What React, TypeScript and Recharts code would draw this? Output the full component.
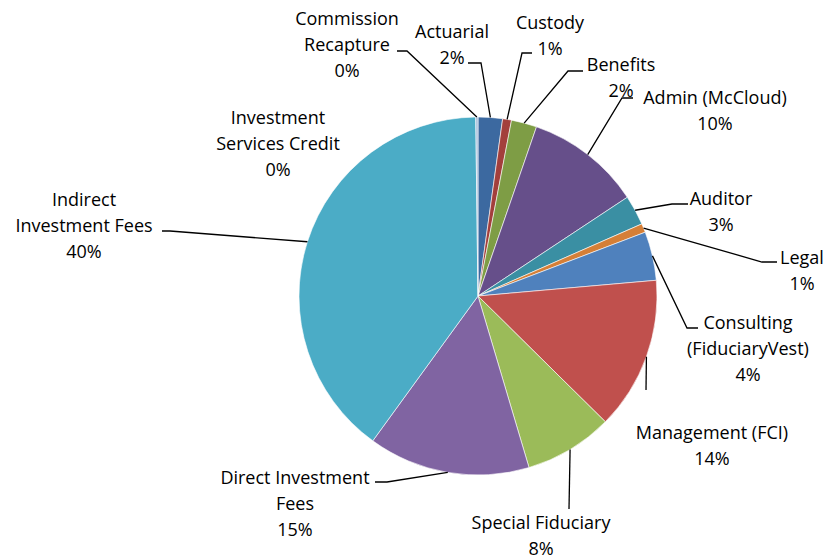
import React from "react";
import { PieChart, Pie, Cell } from "recharts";

// ---- data ----
const categories = [
  "Actuarial",
  "Custody",
  "Benefits",
  "Admin (McCloud)",
  "Auditor",
  "Legal",
  "Consulting (FiduciaryVest)",
  "Management (FCI)",
  "Special Fiduciary",
  "Direct Investment Fees",
  "Indirect Investment Fees",
  "Investment Services Credit",
  "Commission Recapture",
];
const values = [2.2, 0.8, 2.3, 10.4, 2.7, 0.8, 4.4, 13.8, 8.0, 14.6, 39.8, 0, 0.2];

// ---- styles ----
const colors = [
  "#3C69A0",
  "#A33F3C",
  "#7E9D45",
  "#664F8A",
  "#3A8FA3",
  "#D57F37",
  "#4F81BD",
  "#C0504D",
  "#9BBB59",
  "#8064A2",
  "#4BACC6",
  "#F79646",
  "#A4BCDB",
];

// label layout: text lines, first-line center offset from pie center, leader elbow points (offsets from pie center)
const CX = 478;
const CY = 296;
const R = 179;
const LINE_H = 26;
const labelLayout: { lines: string[]; dx: number; dy: number; leader: number[][] | null }[] = [
  { lines: ["Actuarial"], dx: -26, dy: -265, leader: [[3, -233], [-10, -233]] },
  { lines: ["Custody"], dx: 72, dy: -274, leader: [[44, -243], [54, -243]] },
  { lines: ["Benefits"], dx: 143, dy: -232, leader: [[90, -225], [105, -225]] },
  { lines: ["Admin (McCloud)"], dx: 237, dy: -199, leader: [[144, -198], [155, -198]] },
  { lines: ["Auditor"], dx: 243, dy: -98, leader: [[194, -92], [210, -92]] },
  { lines: ["Legal"], dx: 324, dy: -39, leader: [[284, -34], [299, -34]] },
  { lines: ["Consulting", "(FiduciaryVest)"], dx: 270, dy: 26, leader: [[209, 32], [220, 32]] },
  { lines: ["Management (FCI)"], dx: 234, dy: 136, leader: [[168, 94]] },
  { lines: ["Special Fiduciary"], dx: 63, dy: 226, leader: [[91, 213]] },
  { lines: ["Direct Investment", "Fees"], dx: -183, dy: 181, leader: [[-91, 186], [-103, 186]] },
  { lines: ["Indirect", "Investment Fees"], dx: -394, dy: -97, leader: [[-308, -65], [-316, -65]] },
  { lines: ["Investment", "Services Credit"], dx: -200, dy: -179, leader: null },
  { lines: ["Commission", "Recapture"], dx: -131, dy: -278, leader: [[-71, -245], [-81, -245]] },
];

const data = categories.map((name, i) => ({ name, value: values[i] }));
const RAD = Math.PI / 180;

const renderLabel = (props: any) => {
  const { cx, cy, midAngle, outerRadius, index, percent } = props;
  const lay = labelLayout[index];
  if (!lay) return null;
  const ax = cx + outerRadius * Math.cos(-midAngle * RAD);
  const ay = cy + outerRadius * Math.sin(-midAngle * RAD);
  const tx = cx + lay.dx;
  const ty = cy + lay.dy;
  const lines = [...lay.lines, `${Math.round((percent || 0) * 100)}%`];
  const pts = lay.leader
    ? [[ax, ay], ...lay.leader.map(([x, y]) => [cx + x, cy + y])]
    : null;
  return (
    <g key={`lbl-${index}`}>
      {pts && (
        <polyline
          points={pts.map((p) => p.join(",")).join(" ")}
          fill="none"
          stroke="#000"
          strokeWidth={1.3}
        />
      )}
      <text
        x={tx}
        y={ty}
        textAnchor="middle"
        dominantBaseline="central"
        fontFamily="'Open Sans', sans-serif"
        fontSize={18}
        fill="#000"
      >
        {lines.map((l, i) => (
          <tspan key={i} x={tx} y={ty + i * LINE_H}>
            {l}
          </tspan>
        ))}
      </text>
    </g>
  );
};

export default function App() {
  return (
    <div style={{ position: "absolute", left: 0, top: 0, width: 830, height: 558, background: "#fff" }}>
      <PieChart width={830} height={558} margin={{ top: 0, right: 0, bottom: 0, left: 0 }}>
        <Pie
          data={data}
          dataKey="value"
          nameKey="name"
          cx={CX}
          cy={CY}
          outerRadius={R}
          startAngle={90}
          endAngle={-270}
          stroke="#ffffff"
          strokeWidth={0.6}
          label={renderLabel}
          labelLine={false}
          isAnimationActive={false}
        >
          {data.map((d, i) => (
            <Cell key={d.name} fill={colors[i]} />
          ))}
        </Pie>
      </PieChart>
    </div>
  );
}
